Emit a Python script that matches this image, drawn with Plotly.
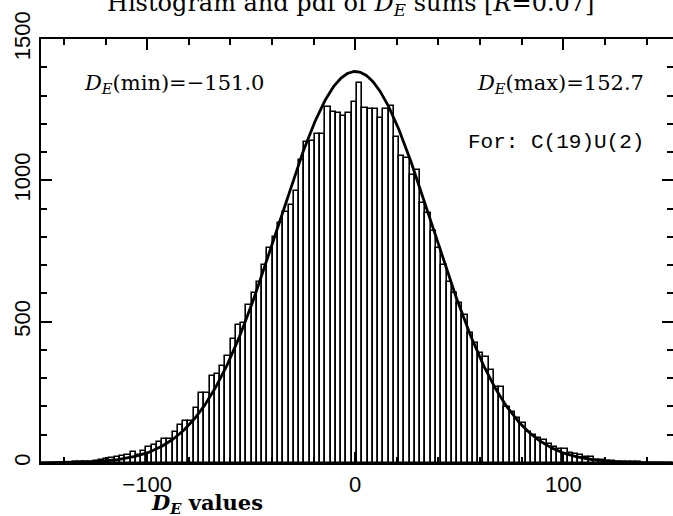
import numpy as np
import plotly.graph_objects as go

# Histogram of D_E sums: 120 equal bins spanning the observed min..max
de_min = -151.0
de_max = 152.7
n_bins = 120
counts = [
    0, 0, 0, 1, 0, 1, 2, 2, 3, 4, 6, 9,
    14, 17, 20, 25, 30, 40, 28, 44, 55, 62, 75, 84, 84, 111, 134, 150, 148, 193,
    249, 249, 308, 315, 343, 378, 437, 488, 496, 560, 600, 640, 700, 760, 800, 850,
    889, 912, 962, 1073, 1134, 1140, 1164, 1164, 1260, 1243, 1237, 1227, 1239, 1278,
    1346, 1257, 1251, 1252, 1219, 1252, 1264, 1154, 1087, 1080, 1019, 1036, 919, 883,
    820, 760, 700, 640, 600, 565, 523, 459, 423, 390, 376, 329, 268, 268, 197, 180,
    158, 141, 111, 99, 87, 81, 67, 58, 48, 48, 34, 31, 28, 22, 22, 12, 10,
    8, 6, 5, 4, 3, 2, 2, 1, 1, 1, 0, 0, 1,
]

# Normal pdf overlaid on the histogram (scaled to counts per bin)
pdf_mean = 0.0
pdf_sigma = 37.0
pdf_peak = 1385.0

x_ticks = [-100, 0, 100]
x_tick_text = ["\u2212100", "0", "100"]
y_ticks = [0, 500, 1000, 1500]
y_tick_text = ["0", "500", "1000", "1500"]

serif = "DejaVu Serif"
sans = "Liberation Sans"

bin_w = (de_max - de_min) / n_bins
centers = de_min + bin_w * (np.arange(n_bins) + 0.5)

xs = np.linspace(de_min, de_max, 600)
pdf = pdf_peak * np.exp(-0.5 * ((xs - pdf_mean) / pdf_sigma) ** 2)

fig = go.Figure()
fig.add_trace(go.Bar(
    x=centers, y=counts, width=bin_w,
    marker=dict(color="white", line=dict(color="black", width=1.6)),
    showlegend=False, hoverinfo="skip",
))
fig.add_trace(go.Scatter(
    x=xs, y=pdf, mode="lines",
    line=dict(color="black", width=2.8),
    showlegend=False, hoverinfo="skip",
))
# invisible trace to carry ticks on the right-hand axis
fig.add_trace(go.Scatter(x=[de_min], y=[0], yaxis="y2", mode="markers",
                         marker=dict(opacity=0), showlegend=False, hoverinfo="skip"))

fig.update_layout(
    width=673, height=516,
    margin=dict(l=41, r=0, t=39, b=53),
    paper_bgcolor="white", plot_bgcolor="white",
    bargap=0,
    xaxis=dict(
        range=[de_min, de_max], showgrid=False, zeroline=False,
        showline=True, linecolor="black", linewidth=2.2, mirror="ticks",
        ticks="inside", ticklen=11, tickwidth=1.8, tickcolor="black",
        tickvals=x_ticks, ticktext=x_tick_text,
        tickfont=dict(family=sans, size=22, color="black"),
        minor=dict(dtick=20, tick0=0, ticks="inside", ticklen=6, tickwidth=1.5, tickcolor="black"),
    ),
    yaxis=dict(
        range=[0, 1500], showgrid=False, zeroline=False,
        showline=True, linecolor="black", linewidth=2.2, mirror=False,
        ticks="inside", ticklen=11, tickwidth=1.8, tickcolor="black",
        tickvals=y_ticks, ticktext=y_tick_text, tickangle=-90,
        tickfont=dict(family=sans, size=22, color="black"),
        minor=dict(dtick=100, tick0=0, ticks="inside", ticklen=6, tickwidth=1.5, tickcolor="black"),
    ),
    yaxis2=dict(
        range=[0, 1500], overlaying="y", side="right", showgrid=False, zeroline=False,
        showline=False, showticklabels=False,
        ticks="inside", ticklen=11, tickwidth=1.8, tickcolor="black",
        tickvals=y_ticks,
        minor=dict(dtick=100, tick0=0, ticks="inside", ticklen=6, tickwidth=1.5, tickcolor="black"),
    ),
)

txt = dict(family=serif, size=21, color="black")
fig.add_annotation(
    text="Histogram and pdf of <i>D</i><sub><i>E</i></sub> sums [<i>R</i>=0.07]",
    xref="paper", yref="paper", x=0.49, y=1.082, xanchor="center", yanchor="middle",
    showarrow=False, font=dict(family=serif, size=24, color="black"),
)
fig.add_annotation(
    text="<i>D</i><sub><i>E</i></sub>(min)=\u2212151.0",
    xref="paper", yref="paper", x=0.065, y=0.895, xanchor="left", yanchor="middle",
    showarrow=False, font=txt,
)
fig.add_annotation(
    text="<i>D</i><sub><i>E</i></sub>(max)=152.7",
    xref="paper", yref="paper", x=0.957, y=0.895, xanchor="right", yanchor="middle",
    showarrow=False, font=txt,
)
fig.add_annotation(
    text="For: C(19)U(2)",
    xref="paper", yref="paper", x=0.957, y=0.755, xanchor="right", yanchor="middle",
    showarrow=False, font=dict(family="Liberation Mono", size=21, color="black"),
)
fig.add_annotation(
    text="<b><i>D</i><sub><i>E</i></sub> values</b>",
    xref="paper", yref="paper", x=0.262, y=-0.096, xanchor="center", yanchor="middle",
    showarrow=False, font=dict(family=serif, size=21, color="black"),
)

fig.write_html("out.html")
